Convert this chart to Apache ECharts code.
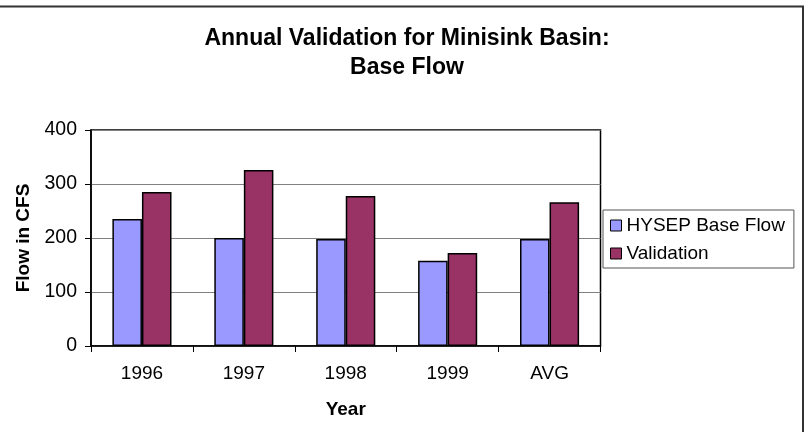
<!DOCTYPE html>
<html>
<head>
<meta charset="utf-8">
<title>Annual Validation for Minisink Basin: Base Flow</title>
<script src="https://cdn.jsdelivr.net/npm/echarts@6/dist/echarts.min.js"></script>
<style>
  html, body { margin: 0; padding: 0; background: #fff; }
  #chart { width: 810px; height: 432px; }
</style>
</head>
<body>
<div id="chart"></div>
<script>
// data
const years = ["1996", "1997", "1998", "1999", "AVG"];
const hysepBaseFlow = [235, 200, 198, 158, 198];
const validation = [285, 326, 278, 172, 266];
const yTicks = [0, 100, 200, 300, 400];

const chart = echarts.init(document.getElementById("chart"));
const font = "Arial, 'Liberation Sans', sans-serif";

chart.setOption({
  backgroundColor: "#fff",
  animation: false,
  title: {
    text: "Annual Validation for Minisink Basin:\nBase Flow",
    left: 402,
    textAlign: "center",
    top: 19,
    textStyle: {
      fontFamily: font,
      fontSize: 23,
      fontWeight: "bold",
      color: "#000",
      lineHeight: 29
    }
  },
  legend: {
    orient: "vertical",
    left: 603,
    top: 210,
    padding: [6, 9, 5, 7],
    itemGap: 9,
    itemWidth: 11,
    itemHeight: 11,
    borderColor: "#555",
    borderWidth: 1,
    icon: "rect",
    itemStyle: { borderColor: "#000", borderWidth: 1 },
    textStyle: { fontFamily: font, fontSize: 19, color: "#000", lineHeight: 19 },
    data: ["HYSEP Base Flow", "Validation"]
  },
  grid: {
    left: 91,
    right: 209.5,
    top: 130,
    bottom: 86,
    show: true,
    borderColor: "#000",
    borderWidth: 1.5
  },
  xAxis: {
    type: "category",
    data: years,
    name: "Year",
    nameLocation: "middle",
    nameGap: 54,
    nameTextStyle: { fontFamily: font, fontSize: 19, fontWeight: "bold", color: "#000" },
    axisLine: { lineStyle: { color: "#000", width: 1.5 } },
    axisTick: { show: true, length: 6, lineStyle: { color: "#000" } },
    axisLabel: { margin: 18, fontFamily: font, fontSize: 19, color: "#000" }
  },
  yAxis: {
    type: "value",
    min: yTicks[0],
    max: yTicks[yTicks.length - 1],
    interval: 100,
    name: "Flow in CFS",
    nameLocation: "middle",
    nameGap: 58,
    nameRotate: 90,
    nameTextStyle: { fontFamily: font, fontSize: 19, fontWeight: "bold", color: "#000" },
    axisLine: { show: true, lineStyle: { color: "#000", width: 1.5 } },
    axisTick: { show: true, length: 6, lineStyle: { color: "#000" } },
    axisLabel: { margin: 14, fontFamily: font, fontSize: 19.5, color: "#000" },
    splitLine: { show: true, lineStyle: { color: "#808080", width: 1 } }
  },
  series: [
    {
      name: "HYSEP Base Flow",
      type: "bar",
      data: hysepBaseFlow,
      barWidth: "29%",
      barGap: "0%",
      itemStyle: { color: "#9999FF", borderColor: "#000", borderWidth: 1.5 }
    },
    {
      name: "Validation",
      type: "bar",
      data: validation,
      barWidth: "29%",
      barGap: "0%",
      itemStyle: { color: "#993366", borderColor: "#000", borderWidth: 1.5 }
    }
  ],
  graphic: [
    {
      type: "polyline",
      shape: { points: [[0, 6.5], [803, 6.5], [803, 432]] },
      style: { stroke: "#333", lineWidth: 2, fill: null },
      silent: true
    }
  ]
});
</script>
</body>
</html>
